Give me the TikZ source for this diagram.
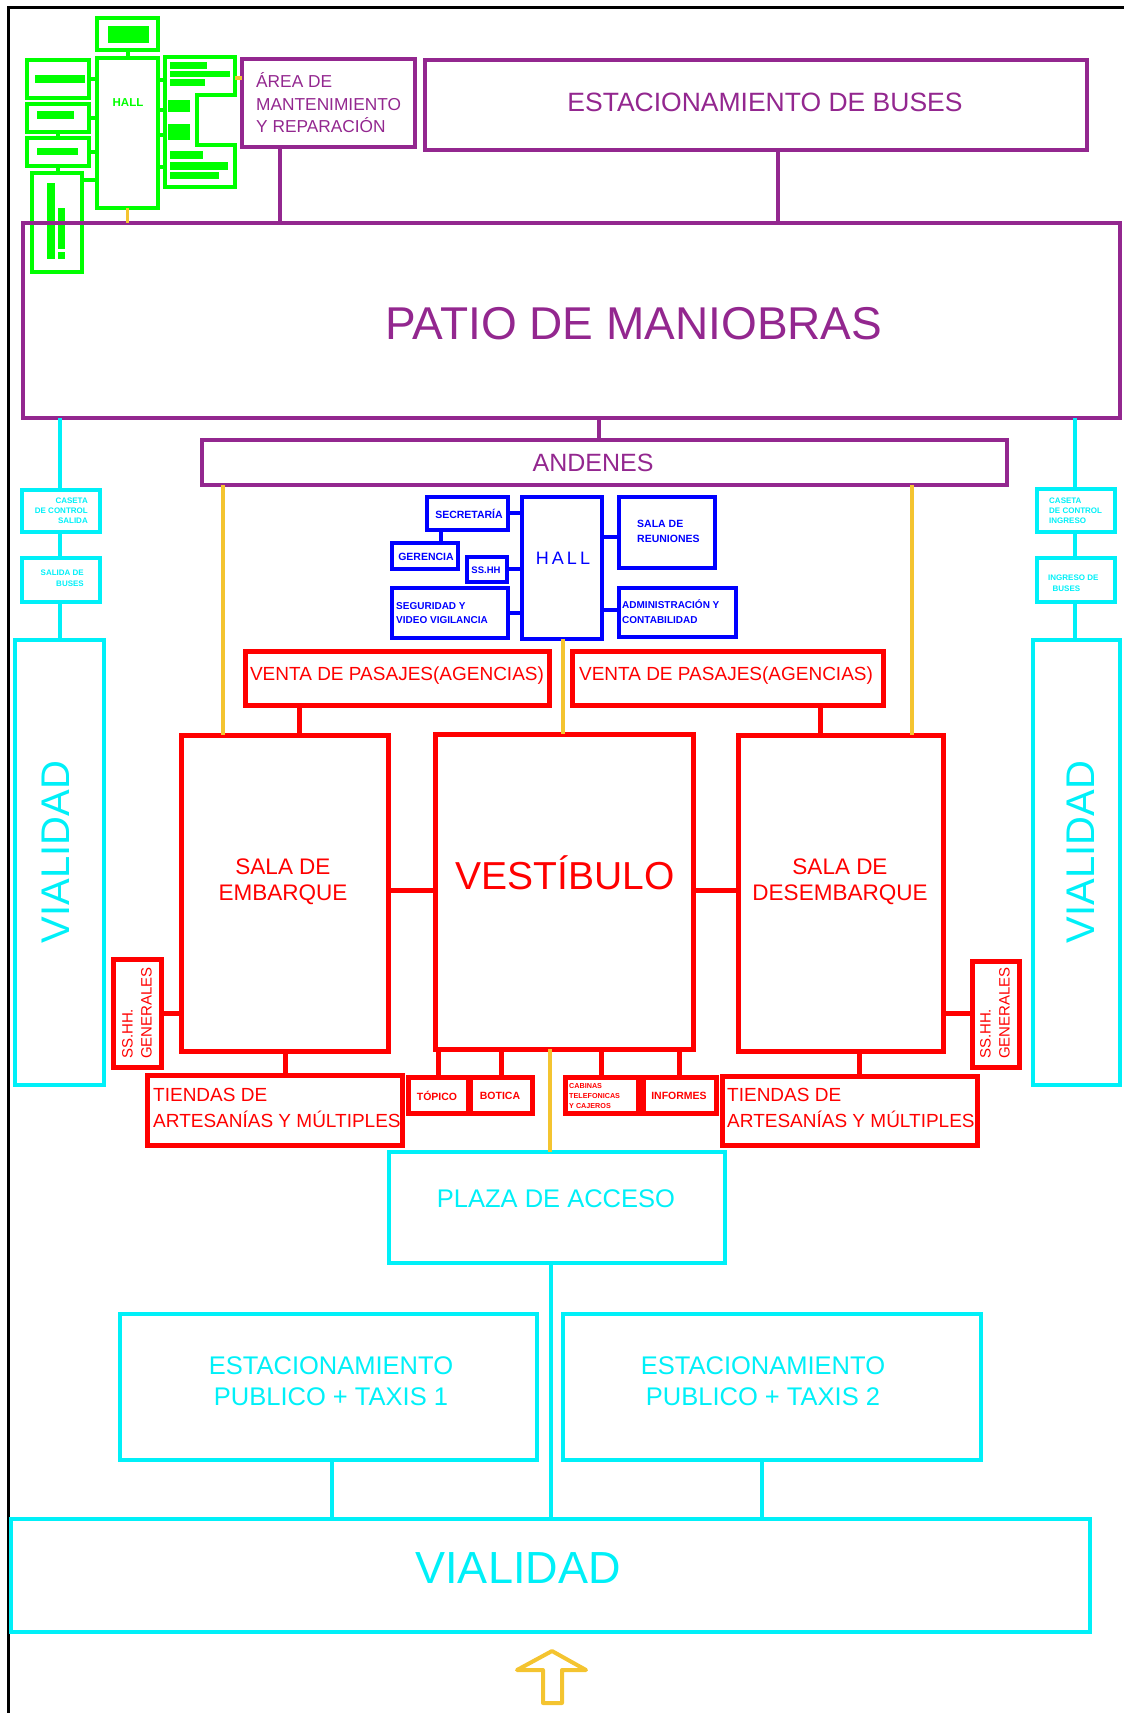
\documentclass[tikz,border=0pt]{standalone}
\usepackage{fontspec}
\setmainfont{Liberation Sans}
\usetikzlibrary{fit}

\tikzset{
    room/.style={draw, line width=4pt, inner sep=0pt, outer sep=0pt},
    greenroom/.style={room, draw=greenColour},
    purpleroom/.style={room, draw=purpleColour},
    cyanroom/.style={room, draw=cyanColour},
    blueroom/.style={room, draw=blueColour},
    redroom/.style={room, line width=5pt, draw=redColour},
    txt/.style={inner sep=0pt, align=center},
    greentxt/.style={txt, text=greenColour},
    purpletxt/.style={txt, text=purpleColour},
    cyantxt/.style={txt, text=cyanColour},
    bluetxt/.style={txt, text=blueColour},
    redtxt/.style={txt, text=redColour},
    greenlink/.style={draw=greenColour, line width=4pt},
    purplelink/.style={draw=purpleColour, line width=4pt},
    cyanlink/.style={draw=cyanColour, line width=4pt},
    bluelink/.style={draw=blueColour, line width=4pt},
    redlink/.style={draw=redColour, line width=5pt},
    yellowlink/.style={draw=yellowColour, line width=3.5pt}
}

\begin{document}
\begin{tikzpicture}[x=1pt, y=-1pt]
    \definecolor{greenColour}{HTML}{00FF00}
    \definecolor{purpleColour}{HTML}{93278F}
    \definecolor{cyanColour}{HTML}{00F0F8}
    \definecolor{blueColour}{HTML}{0000FF}
    \definecolor{redColour}{HTML}{FF0000}
    \definecolor{yellowColour}{HTML}{F4C430}

    \useasboundingbox (0,0) rectangle (1124,1713);

    % Frame
    \draw[line width=3pt] (8,1713) -- (8,7) -- (1124,7);

    % Green block (hall and small rooms)
    \node[greenroom, fit={(97,18) (158,50)}] (gTop) {};
    \node[greenroom, fit={(97,58) (158,208)}] (gHall) {};
    \node[greentxt, font=\bfseries\fontsize{11.5}{12}\selectfont] (gHallT) at (128,103) {HALL};
    \node[greenroom, fit={(27,60) (89,98)}] (gL1) {};
    \node[greenroom, fit={(27,104) (89,132)}] (gL2) {};
    \node[greenroom, fit={(27,138) (89,166)}] (gL3) {};
    \node[greenroom, fit={(32,173) (82,272)}] (gL4) {};
    \draw[greenlink] (165,57) -- (235,57) -- (235,95) -- (197,95) -- (197,145)
        -- (235,145) -- (235,187) -- (165,187) -- cycle;
    \coordinate (gRw) at (165,120);
    \coordinate (gRe) at (235,78);

    \fill[greenColour] (108,26) rectangle (149,43);
    \fill[greenColour] (35,75) rectangle (85,83);
    \fill[greenColour] (37,111) rectangle (74,119);
    \fill[greenColour] (37,148) rectangle (78,155);
    \fill[greenColour] (47,183) rectangle (55,259);
    \fill[greenColour] (58,208) rectangle (65,249);
    \fill[greenColour] (58,252) rectangle (65,259);
    \fill[greenColour] (170,62) rectangle (207,69);
    \fill[greenColour] (170,71) rectangle (230,77);
    \fill[greenColour] (170,79) rectangle (205,86);
    \fill[greenColour] (168,100) rectangle (190,112);
    \fill[greenColour] (168,124) rectangle (190,140);
    \fill[greenColour] (170,151) rectangle (203,159);
    \fill[greenColour] (170,162) rectangle (228,170);
    \fill[greenColour] (170,172) rectangle (219,179);

    \draw[greenlink] (gTop.south) -- (gHall.north);
    \draw[greenlink] (gL1.east) -- (gL1.east -| gHall.west);
    \draw[greenlink] (gL2.east) -- (gL2.east -| gHall.west);
    \draw[greenlink] (gL3.east) -- (gL3.east -| gHall.west);
    \draw[greenlink] (gL4.east |- 0,180) -- (gHall.west |- 0,180);
    \draw[greenlink] (gL2.south) -- (gL2.south |- gL3.north);
    \draw[greenlink] (gL3.south) -- (gL3.south |- gL4.north);
    \foreach \y in {80,110,135,167}
        \draw[greenlink] (gHall.east |- 0,\y) -- (gRw |- 0,\y);

    % Purple: maintenance, buses, manoeuvres, platforms
    \node[purpleroom, fit={(242,59) (415,147)}] (area) {};
    \node[purpletxt, anchor=west, align=left, font=\fontsize{17.3}{22.5}\selectfont] (areaT) at (256,103)
        {ÁREA DE\\MANTENIMIENTO\\Y REPARACIÓN};
    \node[purpleroom, fit={(425,60) (1087,150)}] (buses) {};
    \node[purpletxt, font=\fontsize{26.5}{30}\selectfont] (busesT) at (765,102) {ESTACIONAMIENTO DE BUSES};
    \node[purpleroom, fit={(23,223) (1120,418)}] (patio) {};
    \node[purpletxt, font=\fontsize{46}{50}\selectfont] (patioT) at (634,324) {PATIO DE MANIOBRAS};
    \node[purpleroom, fit={(202,440) (1007,485)}] (andenes) {};
    \node[purpletxt, font=\fontsize{25}{28}\selectfont] (andenesT) at (593,463) {ANDENES};

    \draw[purplelink] (area.south -| 280,0) -- (patio.north -| 280,0);
    \draw[purplelink] (buses.south -| 778,0) -- (patio.north -| 778,0);
    \draw[purplelink] (patio.south -| 599,0) -- (andenes.north -| 599,0);
    \draw[yellowlink] (gRe) -- (area.west |- gRe);
    \draw[yellowlink] (gHall.south) -- (gHall.south |- patio.north);

    % Cyan: control booths and side roads
    \node[cyanroom, fit={(22,490) (100,532)}] (casetaS) {};
    \node[cyantxt, anchor=east, align=right, font=\bfseries\fontsize{8}{10}\selectfont] (casetaST) at (88,511) {CASETA\\DE CONTROL\\SALIDA};
    \node[cyanroom, fit={(22,558) (100,602)}] (salidaB) {};
    \node[cyantxt, anchor=east, align=right, font=\bfseries\fontsize{8}{11}\selectfont] (salidaBT) at (84,578) {SALIDA DE\\BUSES};
    \node[cyanroom, fit={(15,640) (104,1085)}] (vialL) {};
    \node[cyantxt, rotate=90, font=\fontsize{40}{44}\selectfont] (vialLT) at (56,852) {VIALIDAD};
    \node[cyanroom, fit={(1037,489) (1115,532)}] (casetaI) {};
    \node[cyantxt, anchor=west, align=left, font=\bfseries\fontsize{8}{10}\selectfont] (casetaIT) at (1049,511) {CASETA\\DE CONTROL\\INGRESO};
    \node[cyanroom, fit={(1037,558) (1115,602)}] (ingresoB) {};
    \node[cyantxt, anchor=west, align=left, font=\bfseries\fontsize{8}{11}\selectfont] (ingresoBT) at (1048,583) {INGRESO DE\\\ \ BUSES};
    \node[cyanroom, fit={(1033,640) (1120,1085)}] (vialR) {};
    \node[cyantxt, rotate=90, font=\fontsize{40}{44}\selectfont] (vialRT) at (1081,852) {VIALIDAD};

    \draw[cyanlink] (patio.south -| 60,0) -- (casetaS.north -| 60,0);
    \draw[cyanlink] (casetaS.south -| 60,0) -- (salidaB.north -| 60,0);
    \draw[cyanlink] (salidaB.south -| 60,0) -- (vialL.north -| 60,0);
    \draw[cyanlink] (patio.south -| 1075,0) -- (casetaI.north -| 1075,0);
    \draw[cyanlink] (casetaI.south -| 1075,0) -- (ingresoB.north -| 1075,0);
    \draw[cyanlink] (ingresoB.south -| 1075,0) -- (vialR.north -| 1075,0);

    % Blue: administration
    \node[blueroom, fit={(427,497) (508,530)}] (secre) {};
    \node[bluetxt, font=\bfseries\fontsize{10.5}{12}\selectfont] (secreT) at (469,514) {SECRETARÍA};
    \node[blueroom, fit={(392,543) (458,569)}] (geren) {};
    \node[bluetxt, font=\bfseries\fontsize{10.5}{12}\selectfont] (gerenT) at (426,557) {GERENCIA};
    \node[blueroom, fit={(467,557) (507,582)}] (bSshh) {};
    \node[bluetxt, font=\bfseries\fontsize{9.5}{12}\selectfont] (bSshhT) at (486,570) {SS.HH};
    \node[blueroom, fit={(392,588) (508,638)}] (segur) {};
    \node[bluetxt, anchor=west, align=left, font=\bfseries\fontsize{10}{13.5}\selectfont] (segurT) at (396,613) {SEGURIDAD Y\\VIDEO VIGILANCIA};
    \node[blueroom, fit={(522,497) (602,639)}] (bHall) {};
    \node[bluetxt, font=\fontsize{18}{20}\selectfont] (bHallT) at (563,558) {H\,A\,L\,L};
    \node[blueroom, fit={(619,497) (715,568)}] (reun) {};
    \node[bluetxt, anchor=west, align=left, font=\bfseries\fontsize{10.5}{15}\selectfont] (reunT) at (637,531) {SALA DE\\REUNIONES};
    \node[blueroom, fit={(619,588) (736,637)}] (admin) {};
    \node[bluetxt, anchor=west, align=left, font=\bfseries\fontsize{10}{15}\selectfont] (adminT) at (622,612) {ADMINISTRACIÓN Y\\CONTABILIDAD};

    \draw[bluelink] (secre.east |- 0,513) -- (bHall.west |- 0,513);
    \draw[bluelink] (secre.south -| 441,0) -- (geren.north -| 441,0);
    \draw[bluelink] (bSshh.east |- 0,569) -- (bHall.west |- 0,569);
    \draw[bluelink] (segur.east |- 0,613) -- (bHall.west |- 0,613);
    \draw[bluelink] (bHall.east |- 0,537) -- (reun.west |- 0,537);
    \draw[bluelink] (bHall.east |- 0,610) -- (admin.west |- 0,610);

    % Red: passenger areas
    \node[redroom, fit={(245,651) (549,705)}] (ventaL) {};
    \node[redtxt, font=\fontsize{19}{22}\selectfont] (ventaLT) at (397,676) {VENTA DE PASAJES(AGENCIAS)};
    \node[redroom, fit={(572,651) (883,705)}] (ventaR) {};
    \node[redtxt, font=\fontsize{19}{22}\selectfont] (ventaRT) at (726,676) {VENTA DE PASAJES(AGENCIAS)};
    \node[redroom, fit={(181,735) (388,1051)}] (embarque) {};
    \node[redtxt, font=\fontsize{22.5}{26}\selectfont] (embarqueT) at (283,882) {SALA DE\\EMBARQUE};
    \node[redroom, fit={(435,734) (693,1049)}] (vest) {};
    \node[redtxt, font=\fontsize{39}{44}\selectfont] (vestT) at (565,873) {VESTÍBULO};
    \node[redroom, fit={(738,735) (943,1051)}] (desemb) {};
    \node[redtxt, font=\fontsize{22.5}{26}\selectfont] (desembT) at (840,882) {SALA DE\\DESEMBARQUE};
    \node[redroom, fit={(113,959) (161,1067)}] (sshhL) {};
    \node[redtxt, rotate=90, align=left, font=\fontsize{15}{19}\selectfont] (sshhLT) at (137,1013) {SS.HH.\\GENERALES};
    \node[redroom, fit={(972,961) (1019,1067)}] (sshhR) {};
    \node[redtxt, rotate=90, align=left, font=\fontsize{15}{19}\selectfont] (sshhRT) at (995,1013) {SS.HH.\\GENERALES};
    \node[redroom, fit={(147,1075) (402,1145)}] (tiendaL) {};
    \node[redtxt, anchor=west, align=left, font=\fontsize{19}{26.5}\selectfont] (tiendaLT) at (153,1108)
        {TIENDAS DE\\ARTESANÍAS Y MÚLTIPLES};
    \node[redroom, fit={(722,1076) (977,1145)}] (tiendaR) {};
    \node[redtxt, anchor=west, align=left, font=\fontsize{19}{26.5}\selectfont] (tiendaRT) at (727,1108)
        {TIENDAS DE\\ARTESANÍAS Y MÚLTIPLES};
    \node[redroom, fit={(408,1077) (468,1113)}] (topico) {};
    \node[redtxt, font=\bfseries\fontsize{10.5}{12}\selectfont] (topicoT) at (437,1096) {TÓPICO};
    \node[redroom, fit={(470,1077) (532,1113)}] (botica) {};
    \node[redtxt, font=\bfseries\fontsize{10.5}{12}\selectfont] (boticaT) at (500,1096) {BOTICA};
    \node[redroom, fit={(565,1077) (638,1113)}] (cabinas) {};
    \node[redtxt, anchor=west, align=left, font=\bfseries\fontsize{7.2}{10}\selectfont] (cabinasT) at (569,1096) {CABINAS\\TELEFONICAS\\Y CAJEROS};
    \node[redroom, fit={(643,1077) (716,1113)}] (informes) {};
    \node[redtxt, font=\bfseries\fontsize{10.5}{12}\selectfont] (informesT) at (679,1096) {INFORMES};

    \draw[redlink] (ventaL.south -| 299,0) -- (embarque.north -| 299,0);
    \draw[redlink] (ventaR.south -| 820,0) -- (desemb.north -| 820,0);
    \draw[redlink] (embarque.east |- 0,890) -- (vest.west |- 0,890);
    \draw[redlink] (vest.east |- 0,890) -- (desemb.west |- 0,890);
    \draw[redlink] (sshhL.east |- 0,1013) -- (embarque.west |- 0,1013);
    \draw[redlink] (desemb.east |- 0,1013) -- (sshhR.west |- 0,1013);
    \draw[redlink] (embarque.south -| 285,0) -- (tiendaL.north -| 285,0);
    \draw[redlink] (desemb.south -| 859,0) -- (tiendaR.north -| 859,0);
    \draw[redlink] (vest.south -| topico.north) -- (topico.north);
    \draw[redlink] (vest.south -| botica.north) -- (botica.north);
    \draw[redlink] (vest.south -| cabinas.north) -- (cabinas.north);
    \draw[redlink] (vest.south -| informes.north) -- (informes.north);

    % Yellow circulation
    \draw[yellowlink] (andenes.south -| 223,0) -- (embarque.north -| 223,0);
    \draw[yellowlink] (andenes.south -| 912,0) -- (desemb.north -| 912,0);
    \draw[yellowlink] (bHall.south -| 563,0) -- (vest.north -| 563,0);

    % Cyan: access and parking
    \node[cyanroom, fit={(389,1152) (725,1263)}] (plaza) {};
    \node[cyantxt, font=\fontsize{25.5}{30}\selectfont] (plazaT) at (556,1199) {PLAZA DE ACCESO};
    \node[cyanroom, fit={(120,1314) (537,1460)}] (est1) {};
    \node[cyantxt, font=\fontsize{25.5}{30.5}\selectfont] (est1T) at (331,1381) {ESTACIONAMIENTO\\PUBLICO + TAXIS 1};
    \node[cyanroom, fit={(563,1314) (981,1460)}] (est2) {};
    \node[cyantxt, font=\fontsize{25.5}{30.5}\selectfont] (est2T) at (763,1381) {ESTACIONAMIENTO\\PUBLICO + TAXIS 2};
    \node[cyanroom, fit={(11,1519) (1090,1632)}] (vialB) {};
    \node[cyantxt, font=\fontsize{45}{50}\selectfont] (vialBT) at (518,1568) {VIALIDAD};

    \draw[yellowlink] (vest.south -| 550,0) -- (plaza.north -| 550,0);
    \draw[cyanlink] (plaza.south -| 551,0) -- (vialB.north -| 551,0);
    \draw[cyanlink] (est1.south -| 332,0) -- (vialB.north -| 332,0);
    \draw[cyanlink] (est2.south -| 762,0) -- (vialB.north -| 762,0);

    % Entrance arrow
    \draw[yellowColour, line width=4pt, line join=round] (543,1703) -- (543,1670) -- (517,1670) -- (552,1651)
        -- (586,1670) -- (562,1670) -- (562,1703) -- cycle;

\end{tikzpicture}
\end{document}
